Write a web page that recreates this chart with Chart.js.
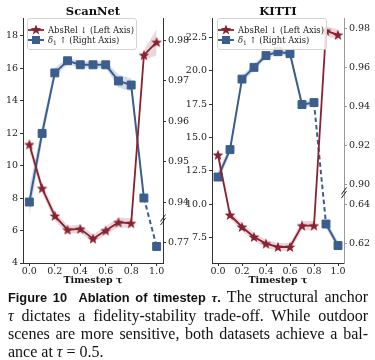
<!DOCTYPE html>
<html><head><meta charset="utf-8">
<script src="https://cdn.jsdelivr.net/npm/chart.js@4.4.1/dist/chart.umd.min.js"></script>
<style>
html,body{margin:0;padding:0;background:#fff;}
#wrap{position:relative;width:375px;height:360px;overflow:hidden;background:#fff;}
canvas{position:absolute;left:0;top:0;}
.legend{position:absolute;box-sizing:border-box;width:110px;height:32px;border:1px solid #d4d4d4;border-radius:3px;background:rgba(255,255,255,0.85);font-family:'DejaVu Serif';font-size:8.4px;color:#222;padding:6px 0 4px 0;}
.legend .row{height:10px;line-height:10px;display:flex;align-items:center;white-space:nowrap;}
.legend svg{width:16px;height:10px;margin-right:4px;flex:none;}
.legend sub{font-size:6px;vertical-align:-1.5px;line-height:0;}
.caption{position:absolute;left:8px;top:288px;width:360px;font-family:'Liberation Serif';font-size:16px;line-height:18px;color:#111;}
.caption .j{text-align:justify;text-align-last:justify;}
.caption .fig{font-family:'Liberation Sans';font-weight:bold;font-size:12.8px;}
.caption .m{font-family:'Liberation Serif';font-style:italic;}
</style>
</head><body>
<div id="wrap">
<canvas id="c1" width="375" height="288" style="width:375px;height:288px"></canvas>
<canvas id="c2" width="375" height="288" style="width:375px;height:288px"></canvas>
<div class="legend" style="left:27px;top:18px;">
 <div class="row"><svg viewBox="0 0 16 10"><line x1="0" y1="5" x2="16" y2="5" stroke="#8a2130" stroke-width="1.8"/><polygon fill="#8a2130" points="8,-0.5 9.4,3.1 13.2,3.3 10.2,5.7 11.2,9.4 8,7.3 4.8,9.4 5.8,5.7 2.8,3.3 6.6,3.1"/></svg><span>AbsRel ↓ (Left Axis)</span></div>
 <div class="row"><svg viewBox="0 0 16 10"><line x1="0" y1="5" x2="16" y2="5" stroke="#3b5e8f" stroke-width="2"/><rect x="4" y="1" width="8" height="8" fill="#3b5e8f"/></svg><span><i>δ</i><sub>1</sub> ↑ (Right Axis)</span></div>
</div>
<div class="legend" style="left:217px;top:18px;">
 <div class="row"><svg viewBox="0 0 16 10"><line x1="0" y1="5" x2="16" y2="5" stroke="#8a2130" stroke-width="1.8"/><polygon fill="#8a2130" points="8,-0.5 9.4,3.1 13.2,3.3 10.2,5.7 11.2,9.4 8,7.3 4.8,9.4 5.8,5.7 2.8,3.3 6.6,3.1"/></svg><span>AbsRel ↓ (Left Axis)</span></div>
 <div class="row"><svg viewBox="0 0 16 10"><line x1="0" y1="5" x2="16" y2="5" stroke="#3b5e8f" stroke-width="2"/><rect x="4" y="1" width="8" height="8" fill="#3b5e8f"/></svg><span><i>δ</i><sub>1</sub> ↑ (Right Axis)</span></div>
</div>
<div class="caption">
 <div class="j"><span class="fig">Figure 10&nbsp;&nbsp;Ablation of timestep <i class="m">τ</i>.</span> The structural anchor</div>
 <div class="j"><i class="m">τ</i> dictates a fidelity-stability trade-off. While outdoor</div>
 <div class="j">scenes are more sensitive, both datasets achieve a bal-</div>
 <div>ance at <i class="m">τ</i> = 0.5.</div>
</div>
</div>
<script>
// ---- data ----
const taus = [0.0, 0.1, 0.2, 0.3, 0.4, 0.5, 0.6, 0.7, 0.8, 0.9, 1.0];
const xTicks = [0.0, 0.2, 0.4, 0.6, 0.8, 1.0];

const scannetAbsRel     = [11.3, 8.6, 6.9, 6.05, 6.1, 5.5, 6.0, 6.5, 6.45, 16.8, 17.6];
const scannetAbsRelBand = [0.4, 0.3, 0.3, 0.25, 0.25, 0.25, 0.25, 0.3, 0.3, 0.3, 0.8];
const scannetDelta1     = [0.940, 0.957, 0.972, 0.975, 0.974, 0.974, 0.974, 0.970, 0.969, 0.941, 0.769];
const scannetDelta1Band = [0.0035, 0.002, 0.0012, 0.0008, 0.0008, 0.0008, 0.0008, 0.0016, 0.0016, 0.001, 0.001];
const scannetLeftTicks  = [4, 6, 8, 10, 12, 14, 16, 18];
const scannetRightTicks = [0.77, 0.94, 0.95, 0.96, 0.97, 0.98];

const kittiAbsRel     = [13.7, 9.2, 8.3, 7.55, 7.05, 6.8, 6.8, 8.4, 8.4, 23.0, 22.7];
const kittiAbsRelBand = [0.45, 0.3, 0.3, 0.3, 0.3, 0.3, 0.3, 0.35, 0.35, 0.35, 0.4];
const kittiDelta1     = [0.904, 0.918, 0.954, 0.960, 0.966, 0.968, 0.967, 0.941, 0.942, 0.630, 0.619];
const kittiDelta1Band = [0.003, 0.002, 0.0018, 0.0018, 0.0015, 0.0015, 0.0015, 0.0015, 0.0015, 0.002, 0.002];
const kittiLeftTicks  = [7.5, 10.0, 12.5, 15.0, 17.5, 20.0, 22.5];
const kittiRightTicks = [0.62, 0.64, 0.90, 0.92, 0.94, 0.96, 0.98];

// broken right axis: values below `cut` live on the lower segment, shifted by `shift`
const scannetBreak = {cut: 0.9, shift: 0.16, mark: 0.9356};
const kittiBreak   = {cut: 0.8, shift: 0.25, mark: 0.896};

const RED = '#8a2130', BLUE = '#3b5e8f';
const RED_BAND = 'rgba(140,33,48,0.18)', BLUE_BAND = 'rgba(59,94,143,0.22)';
const SERIF = 'DejaVu Serif';

function makeStar(color, R, r) {
  const s = Math.ceil(2 * R + 2);
  const c = document.createElement('canvas');
  c.width = s; c.height = s;
  const g = c.getContext('2d');
  g.beginPath();
  for (let k = 0; k < 10; k++) {
    const a = -Math.PI / 2 + k * Math.PI / 5;
    const rad = k % 2 ? r : R;
    g.lineTo(s / 2 + rad * Math.cos(a), s / 2 + 0.4 + rad * Math.sin(a));
  }
  g.closePath(); g.fillStyle = color; g.fill();
  return c;
}
const star = makeStar(RED, 5.6, 2.4);

const breakMark = {
  id: 'breakMark',
  afterDatasetsDraw(chart, args, opts) {
    const s = chart.scales.yR;
    const x = chart.chartArea.right;
    const y = s.getPixelForValue(opts.at);
    const ctx = chart.ctx;
    ctx.save();
    ctx.strokeStyle = '#222'; ctx.lineWidth = 1;
    for (const d of [-1.8, 1.8]) {
      ctx.beginPath(); ctx.moveTo(x - 2.5, y + d + 3.5); ctx.lineTo(x + 2.5, y + d - 3.5); ctx.stroke();
    }
    ctx.restore();
  }
};

// right-axis labels: ticks given in real values, placed through the break transform
function rightLabel(brk, ticks) {
  return v => {
    for (const t of ticks) {
      const p = t < brk.cut ? t + brk.shift : t;
      if (Math.abs(p - v) < 1e-6) return t.toFixed(2);
    }
    return '';
  };
}

function build(canvasId, cfg) {
  const br = cfg.brk;
  const tr = v => (v < br.cut ? v + br.shift : v);
  const low = v => v < br.cut;
  const redData = taus.map((x, i) => ({x, y: cfg.absRel[i]}));
  const blueData = taus.map((x, i) => ({x, y: tr(cfg.delta[i])}));

  const datasets = [];
  datasets.push({
    label: 'AbsRel', yAxisID: 'yL', data: redData, borderColor: RED, borderWidth: 1.8,
    pointStyle: star, pointRadius: 5, backgroundColor: RED, order: 0, tension: 0, fill: false
  });
  datasets.push({
    label: 'delta1', yAxisID: 'yR', data: blueData, borderColor: BLUE, borderWidth: 2,
    pointStyle: 'rect', pointRadius: 5.6, pointBorderWidth: 1, pointBackgroundColor: BLUE, pointBorderColor: BLUE,
    order: 1, tension: 0, fill: false,
    segment: {borderDash: c => (low(cfg.delta[c.p0DataIndex]) !== low(cfg.delta[c.p1DataIndex]) ? [4.5, 3] : undefined)}
  });
  // red band
  datasets.push({yAxisID: 'yL', data: taus.map((x, i) => ({x, y: cfg.absRel[i] - cfg.absRelBand[i]})),
    borderWidth: 0, pointRadius: 0, fill: false, order: 5});
  datasets.push({yAxisID: 'yL', data: taus.map((x, i) => ({x, y: cfg.absRel[i] + cfg.absRelBand[i]})),
    borderWidth: 0, pointRadius: 0, fill: '-1', backgroundColor: RED_BAND, order: 5});
  // blue bands, one per axis segment
  const sections = [];
  let cur = [];
  cfg.delta.forEach((v, i) => {
    if (cur.length && low(cfg.delta[cur[cur.length - 1]]) !== low(v)) { sections.push(cur); cur = []; }
    cur.push(i);
  });
  sections.push(cur);
  sections.filter(s => s.length > 1).forEach(s => {
    datasets.push({yAxisID: 'yR', data: s.map(i => ({x: taus[i], y: tr(cfg.delta[i] - cfg.deltaBand[i])})),
      borderWidth: 0, pointRadius: 0, fill: false, order: 6});
    datasets.push({yAxisID: 'yR', data: s.map(i => ({x: taus[i], y: tr(cfg.delta[i] + cfg.deltaBand[i])})),
      borderWidth: 0, pointRadius: 0, fill: '-1', backgroundColor: BLUE_BAND, order: 6});
  });

  const tickFont = {family: SERIF, size: 9.5};
  const grid = {display: true, drawOnChartArea: false, drawTicks: true, tickLength: 3, color: '#333'};
  new Chart(document.getElementById(canvasId), {
    type: 'line',
    data: {datasets},
    plugins: [breakMark],
    options: {
      responsive: false, animation: false, devicePixelRatio: 1,
      layout: {padding: cfg.padding},
      events: [],
      plugins: {
        legend: {display: false}, tooltip: {enabled: false},
        title: {display: true, text: cfg.title, fullSize: false, color: '#111',
          font: {family: SERIF, size: 11.5, weight: 'bold'}, padding: {top: 5, bottom: 0}},
        breakMark: {at: br.mark}
      },
      scales: {
        x: {
          type: 'linear', position: 'bottom', min: -0.05, max: 1.05,
          afterBuildTicks: s => { s.ticks = xTicks.map(v => ({value: v})); },
          afterFit: s => { s.height = 25; },
          ticks: {font: tickFont, color: '#222', padding: 0, maxRotation: 0, autoSkip: false,
            callback: v => Number(v).toFixed(1)},
          grid, border: {display: true, color: '#333', width: 1},
          title: {display: true, text: 'Timestep τ', color: '#111',
            font: {family: SERIF, size: 9.5, weight: 'bold'}, padding: {top: 0, bottom: 2}}
        },
        yL: {
          type: 'linear', position: 'left', min: cfg.leftRange[0], max: cfg.leftRange[1],
          afterBuildTicks: s => { s.ticks = cfg.leftTicks.map(v => ({value: v})); },
          afterFit: s => { s.width = cfg.leftWidth; },
          ticks: {font: tickFont, color: '#222', padding: 2, callback: cfg.leftFmt},
          grid, border: {display: true, color: '#333', width: 1}
        },
        yR: {
          type: 'linear', position: 'right', min: cfg.rightRange[0], max: cfg.rightRange[1],
          afterBuildTicks: s => { s.ticks = cfg.rightTicks.map(v => ({value: tr(v)})); },
          afterFit: s => { s.width = cfg.rightWidth; },
          ticks: {font: tickFont, color: '#222', padding: 2, callback: rightLabel(br, cfg.rightTicks)},
          grid: {...grid, color: cfg.rightSpine}, border: {display: true, color: cfg.rightSpine, width: 1}
        }
      }
    }
  });
}

build('c1', {
  title: 'ScanNet', absRel: scannetAbsRel, absRelBand: scannetAbsRelBand,
  delta: scannetDelta1, deltaBand: scannetDelta1Band, brk: scannetBreak,
  leftTicks: scannetLeftTicks, rightTicks: scannetRightTicks,
  leftRange: [4, 19.04], rightRange: [0.9249, 0.9854],
  leftFmt: v => String(v), leftWidth: 23, rightWidth: 30, rightSpine: '#333',
  padding: {left: 0, right: 182, top: 0, bottom: 0}
});
build('c2', {
  title: 'KITTI', absRel: kittiAbsRel, absRelBand: kittiAbsRelBand,
  delta: kittiDelta1, deltaBand: kittiDelta1Band, brk: kittiBreak,
  leftTicks: kittiLeftTicks, rightTicks: kittiRightTicks,
  leftRange: [5.6, 23.9], rightRange: [0.8601, 0.9848],
  leftFmt: v => Number(v).toFixed(1), leftWidth: 30, rightWidth: 31, rightSpine: '#999',
  padding: {left: 182, right: 0, top: 0, bottom: 0}
});
</script>
</body></html>
